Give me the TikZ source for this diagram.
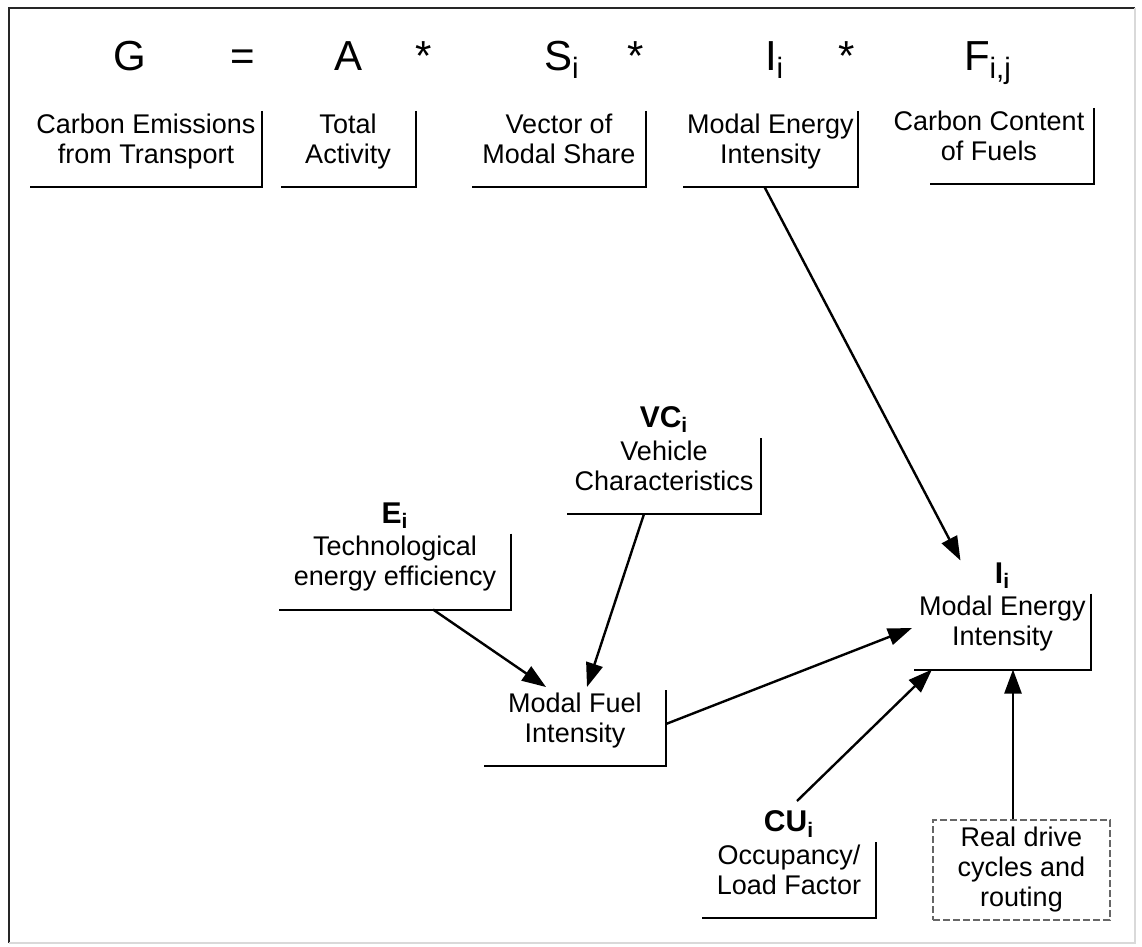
\documentclass[tikz,border=0pt]{standalone}
\usepackage{fontspec}
\setmainfont{Liberation Sans}
\usetikzlibrary{arrows.meta}

\begin{document}
\begin{tikzpicture}[x=0.5pt,y=-0.5pt,line width=1pt,>={Triangle[length=12pt,width=8.5pt]},
      every node/.append style={font=\fontsize{13.5}{15}\selectfont,inner sep=0pt},
      term/.style={font=\fontsize{21}{25}\selectfont,anchor=base},
      bracket/.style={align=center,minimum height=31pt,
        execute at begin node=\strut,execute at end node=\strut,
        append after command={\pgfextra{\draw[-] (\tikzlastnode.north east) |- ([xshift=#1,yshift=-6pt]\tikzlastnode.south west);}}},
      bracket/.default=0pt,
      sym/.style={label={[font=\fontsize{15}{18}\selectfont\bfseries,label distance=2pt]above:#1}},
      dashbox/.style={draw=black!60,line width=0.6pt,dash pattern=on 3.5pt off 1.5pt,align=center,
        minimum width=88.5pt,minimum height=50pt}]
    \useasboundingbox (0,0) rectangle (1142,947);
    \draw[black!85] (9,943) -- (9,8) -- (1135,8);
    \draw[black!15] (1135,8) -- (1135,943) -- (9,943);

    \node (G) [term] at (130,71) {G};
    \node (eq) [term] at (243,71) {=};
    \node (A) [term] at (349,71) {A};
    \node (m1) [term] at (424,71) {*};
    \node (S) [term,anchor=base west] at (543,71) {S\textsubscript{i}};
    \node (m2) [term] at (636,71) {*};
    \node (I) [term,anchor=base west] at (764,71) {I\textsubscript{i}};
    \node (m3) [term] at (847,71) {*};
    \node (F) [term,anchor=base west] at (963,71) {F\textsubscript{i,j}};

    \node (cet) [bracket,minimum width=115pt] at (146,143) {Carbon Emissions\\from Transport};
    \node (act) [bracket,minimum width=66.5pt] at (348,143) {Total\\Activity};
    \node (share) [bracket,minimum width=86pt] at (559,143) {Vector of\\Modal Share};
    \node (int) [bracket,minimum width=86.5pt] at (770.5,143) {Modal Energy\\Intensity};
    \node (fuel) [bracket=23pt,minimum width=104pt] at (989,140) {Carbon Content\\of Fuels};

    \node (VC) [bracket,minimum width=96pt,sym={VC\textsubscript{i}}] at (664,470) {Vehicle\\Characteristics};
    \node (E) [bracket,minimum width=115pt,sym={E\textsubscript{i}}] at (395,565.5) {Technological\\energy efficiency};
    \node (MFI) [bracket,minimum width=90pt] at (575,722) {Modal Fuel\\Intensity};
    \node (Ii) [bracket,minimum width=87.5pt,sym={I\textsubscript{i}}] at (1002.5,625.5) {Modal Energy\\Intensity};
    \node (CU) [bracket,minimum width=86pt,sym={CU\textsubscript{i}}] at (789,874) {Occupancy/\\Load Factor};
    \node (real) [dashbox] at (1021.5,870) {Real drive\\cycles and\\routing};

    \draw[->,line width=1.2pt] ([xshift=-3pt,yshift=-6pt]int.south) -- ([xshift=-21pt,yshift=16.5pt]Ii.north);
    \draw[->,line width=1.2pt] ([xshift=19pt,yshift=-6pt]E.south) -- ([xshift=-14.5pt,yshift=1.5pt]MFI.north);
    \draw[->,line width=1.2pt] ([xshift=-10pt,yshift=-6pt]VC.south) -- ([xshift=6pt,yshift=1.5pt]MFI.north);
    \draw[->,line width=1.2pt] ([yshift=-1pt]MFI.east) -- ([xshift=-1pt,yshift=-1.25pt]Ii.west);
    \draw[->,line width=1.2pt] ([xshift=4pt,yshift=20.5pt]CU.north) -- ([xshift=9pt,yshift=-6pt]Ii.south west);
    \draw[->,line width=1.2pt] ([xshift=-4.25pt]real.north) -- ([xshift=-4.25pt,yshift=-6pt]real.north |- Ii.south);
\end{tikzpicture}
\end{document}
